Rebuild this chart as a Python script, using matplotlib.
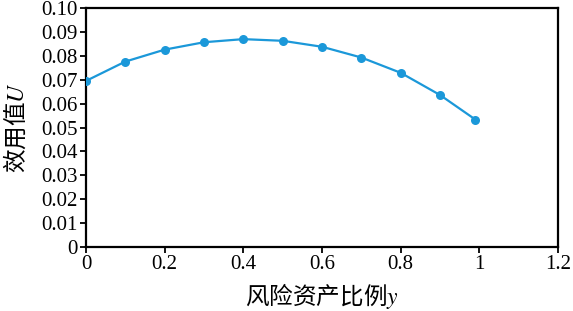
import matplotlib
matplotlib.use("Agg")
import matplotlib.pyplot as plt

y_share = [0.0, 0.1, 0.2, 0.3, 0.4, 0.5, 0.6, 0.7, 0.8, 0.9, 0.99]
utility = [0.0695, 0.0776, 0.0826, 0.0857, 0.0870, 0.0863, 0.0838, 0.0793, 0.0729, 0.0636, 0.0533]
xticks = [0, 0.2, 0.4, 0.6, 0.8, 1.0, 1.2]
xtick_labels = ["0", "0.2", "0.4", "0.6", "0.8", "1", "1.2"]
yticks = [0, 0.01, 0.02, 0.03, 0.04, 0.05, 0.06, 0.07, 0.08, 0.09, 0.10]
ytick_labels = ["0", "0.01", "0.02", "0.03", "0.04", "0.05", "0.06", "0.07", "0.08", "0.09", "0.10"]

plt.rcParams["mathtext.fontset"] = "stix"

fig = plt.figure(figsize=(5.73, 3.11), dpi=100)
ax = fig.add_axes([0.150, 0.206, 0.824, 0.768])

ax.plot(y_share, utility, color="#1b98d9", lw=1.6, marker="o", ms=6.5,
        markeredgewidth=0, zorder=3)

ax.set_xlim(0, 1.2)
ax.set_ylim(0, 0.10)
ax.set_xticks(xticks)
ax.set_xticklabels(xtick_labels)
ax.set_yticks(yticks)
ax.set_yticklabels(ytick_labels)

for lab in ax.get_xticklabels() + ax.get_yticklabels():
    lab.set_fontfamily("Liberation Serif")
    lab.set_fontsize(15)

ax.tick_params(direction="out", length=4, width=1.3, color="black", pad=2)
for sp in ax.spines.values():
    sp.set_linewidth(1.6)
    sp.set_color("black")

ax.set_xlabel("风险资产比例$y$", family="Noto Sans CJK SC", fontsize=17, labelpad=5)
ax.set_ylabel("效用值$U$", family="Noto Sans CJK SC", fontsize=17, labelpad=9)

fig.savefig("out.png", dpi=100)
